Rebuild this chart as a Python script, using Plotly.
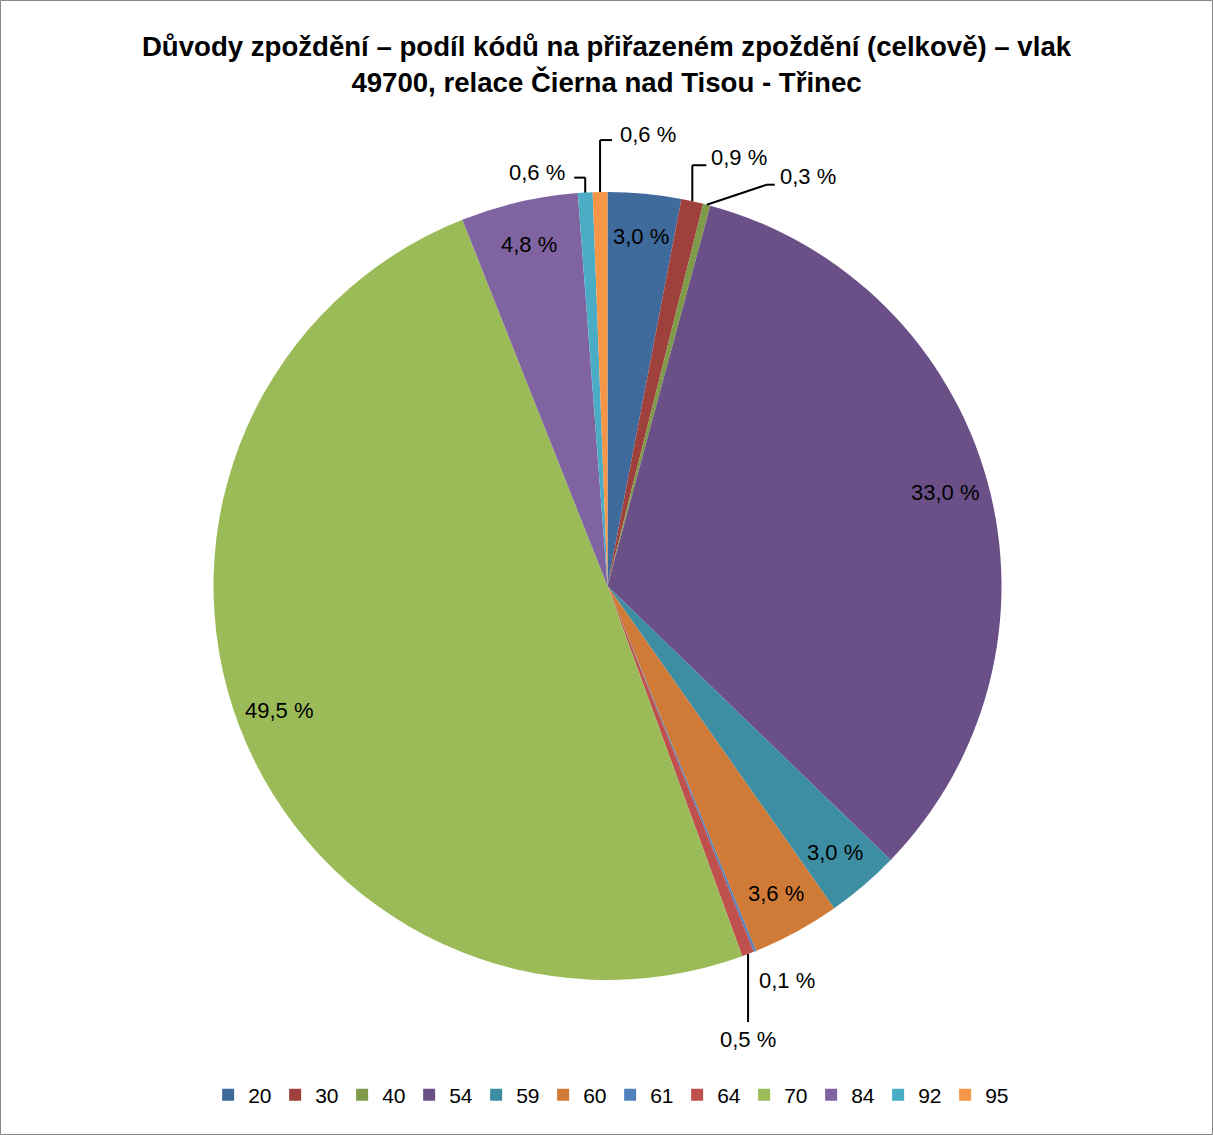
import math
import plotly.graph_objects as go

# delay reason codes and their share of assigned delay (%)
codes = ['20', '30', '40', '54', '59', '60', '61', '64', '70', '84', '92', '95']
shares = [3.0, 0.9, 0.3, 33.0, 3.0, 3.6, 0.1, 0.5, 49.5, 4.8, 0.6, 0.6]
colors = ['#3F6A9C', '#A0403C', '#7F9A48', '#6A5087', '#3D8DA3', '#CF7B37',
          '#4F81BD', '#C0504D', '#9BBB59', '#8064A2', '#4BACC6', '#F79646']

title = ('<b>Důvody zpoždění – podíl kódů na přiřazeném zpoždění (celkově) – vlak<br>'
         '49700, relace Čierna nad Tisou - Třinec</b>')

W, H = 1213, 1135
cx, cy, R = 607.5, 586, 394
FONT = 'Liberation Sans, Arial, sans-serif'

# leader line layout for the small slices: polyline offsets from the pie edge,
# then the label offset from the last point and its anchor
leaders = {
    '30': ([(0, -36), (14, -36)], (3, -8), 'left'),
    '40': ([(60, -20), (68, -20)], (3, -8), 'left'),
    '95': ([(0, -52), (12, -52)], (6, -6), 'left'),
    '92': ([(0, -15), (-11, -15)], (-7, -5), 'right'),
    '64': ([(0, 68)], (0, 17), 'center'),
    '61': ([], (2, 29), 'left'),
}


def px(x, y):
    return x / W, 1 - y / H


fig = go.Figure()
fig.add_trace(go.Pie(
    labels=codes, values=shares, sort=False, direction='clockwise', rotation=0,
    marker=dict(colors=colors, line=dict(width=0)), textinfo='none',
    domain=dict(x=[(cx - R) / W, (cx + R) / W], y=[(H - cy - R) / H, (H - cy + R) / H]),
    showlegend=True,
))

total = sum(shares)
annotations = []
shapes = []
cum = 0
for code, v in zip(codes, shares):
    mid = (cum + v / 2) / total * 2 * math.pi
    cum += v
    txt = f'{v:.1f} %'.replace('.', ',')
    if code in leaders:
        pts, (lx, ly), anchor = leaders[code]
        ex, ey = cx + R * math.sin(mid), cy - R * math.cos(mid)
        path = [(ex, ey)] + [(ex + dx, ey + dy) for dx, dy in pts]
        for (x0, y0), (x1, y1) in zip(path[:-1], path[1:]):
            a0, b0 = px(x0, y0)
            a1, b1 = px(x1, y1)
            shapes.append(dict(type='line', xref='paper', yref='paper', x0=a0, y0=b0,
                               x1=a1, y1=b1, line=dict(color='black', width=2)))
        tx, ty = path[-1][0] + lx, path[-1][1] + ly
    else:
        anchor = 'center'
        tx, ty = cx + 0.89 * R * math.sin(mid), cy - 0.89 * R * math.cos(mid)
    ax, ay = px(tx, ty)
    annotations.append(dict(x=ax, y=ay, xref='paper', yref='paper', text=txt,
                            showarrow=False, xanchor=anchor, yanchor='middle',
                            font=dict(size=22, color='black', family=FONT)))

# chart border
shapes.append(dict(type='rect', xref='paper', yref='paper', x0=0.5 / W, y0=0.5 / H,
                   x1=1 - 0.5 / W, y1=1 - 0.5 / H, line=dict(color='#868686', width=1)))

fig.update_layout(
    width=W, height=H,
    margin=dict(l=0, r=0, t=0, b=0),
    paper_bgcolor='white', plot_bgcolor='white',
    title=dict(text=title, x=0.5, xanchor='center', y=1 - 56 / H, yanchor='middle',
               font=dict(size=27.6, color='black', family=FONT)),
    legend=dict(orientation='h', x=0.503, xanchor='center', y=1 - 1095 / H,
                yanchor='middle', font=dict(size=21, color='black', family=FONT),
                itemwidth=30, entrywidth=22, traceorder='normal'),
    annotations=annotations,
    shapes=shapes,
)

# drop the default page margin so the figure sits at the window's corner
fig.write_html('out.html', config={'displayModeBar': False},
               post_script="document.body.style.margin='0';")
